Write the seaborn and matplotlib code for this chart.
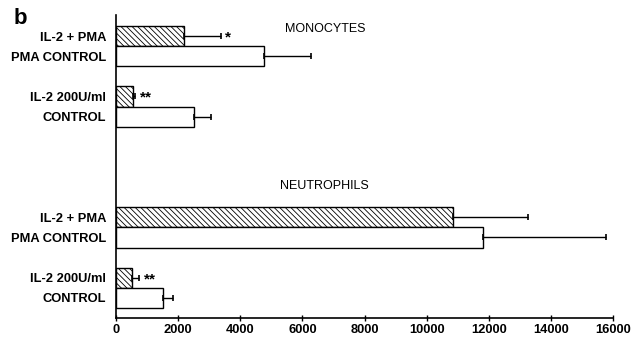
import pandas as pd
import numpy as np
import matplotlib
matplotlib.use("Agg")
import matplotlib.pyplot as plt
import seaborn as sns

# values (counts per well)
labels = ["IL-2 + PMA", "PMA CONTROL", "IL-2 200U/ml", "CONTROL"]
treated = ["IL-2", "control", "IL-2", "control"]
mono_mean = [2200, 4750, 535, 2520]
mono_err = [1180, 1530, 90, 525]
mono_sig = ["*", "", "**", ""]
neut_mean = [10850, 11825, 505, 1500]
neut_err = [2415, 3940, 245, 320]
neut_sig = ["", "", "**", ""]
xticks = [0, 2000, 4000, 6000, 8000, 10000, 12000, 14000, 16000]

# slot order on the y axis, blank slots keep the gaps between groups
order = ["m0", "m1", "g1", "m2", "m3", "g2", "g3", "g4", "g5",
         "n0", "n1", "g6", "n2", "n3"]
mono_keys = ["m0", "m1", "m2", "m3"]
neut_keys = ["n0", "n1", "n2", "n3"]

df = pd.DataFrame({
    "slot": mono_keys + neut_keys,
    "label": labels + labels,
    "kind": treated + treated,
    "value": mono_mean + neut_mean,
    "err": mono_err + neut_err,
    "sig": mono_sig + neut_sig,
})

sns.set_style("ticks")
plt.rcParams["font.family"] = ["Liberation Sans", "DejaVu Sans"]
plt.rcParams["hatch.linewidth"] = 0.6
plt.rcParams["text.color"] = "black"
plt.rcParams["xtick.color"] = "black"
plt.rcParams["ytick.color"] = "black"
plt.rcParams["axes.edgecolor"] = "black"

fig = plt.figure(figsize=(6.34, 3.38), dpi=100)
ax = fig.add_axes([0.183, 0.059, 0.784, 0.897])

sns.barplot(data=df, x="value", y="slot", order=order, hue="kind",
            hue_order=["IL-2", "control"], palette={"IL-2": "white", "control": "white"},
            dodge=False, width=1.0, edgecolor="black", linewidth=1.0,
            errorbar=None, legend=False, ax=ax)

for bar in ax.containers[0]:
    bar.set_hatch("\\\\\\\\\\\\")

pos = [order.index(s) for s in df["slot"]]
ax.errorbar(df["value"], pos, xerr=[np.zeros(len(df)), df["err"]], fmt="none",
            ecolor="black", elinewidth=1.0, capsize=2.5, capthick=1.2)

for p, v, e, s in zip(pos, df["value"], df["err"], df["sig"]):
    if s:
        ax.annotate(s, (v + e, p), xytext=(3, -1), textcoords="offset points",
                    va="center", ha="left", fontsize=11, fontweight="bold")

tick_labels = []
for s in order:
    if s in df["slot"].values:
        tick_labels.append(df.loc[df["slot"] == s, "label"].iloc[0])
    else:
        tick_labels.append("")
ax.set_yticks(range(len(order)))
ax.set_yticklabels(tick_labels, fontsize=9.3, fontweight="bold")
ax.tick_params(axis="y", length=0, pad=7)

ax.set_xlim(0, 16000)
ax.set_ylim(14.0, -1.05)
ax.set_xticks(xticks)
ax.set_xticklabels([str(t) for t in xticks], fontsize=9.3, fontweight="bold")
ax.tick_params(axis="x", direction="inout", length=5, width=1, pad=2)
ax.set_xlabel("")
ax.set_ylabel("")
sns.despine(ax=ax)
for sp in ["left", "bottom"]:
    ax.spines[sp].set_linewidth(1.2)

ax.text(0.42, 0.955, "MONOCYTES", transform=ax.transAxes, fontsize=9, ha="center", va="center")
ax.text(0.42, 0.435, "NEUTROPHILS", transform=ax.transAxes, fontsize=9, ha="center", va="center")
fig.text(0.022, 0.975, "b", fontsize=16, fontweight="bold", va="top", ha="left")

fig.savefig("out.png", dpi=100)
